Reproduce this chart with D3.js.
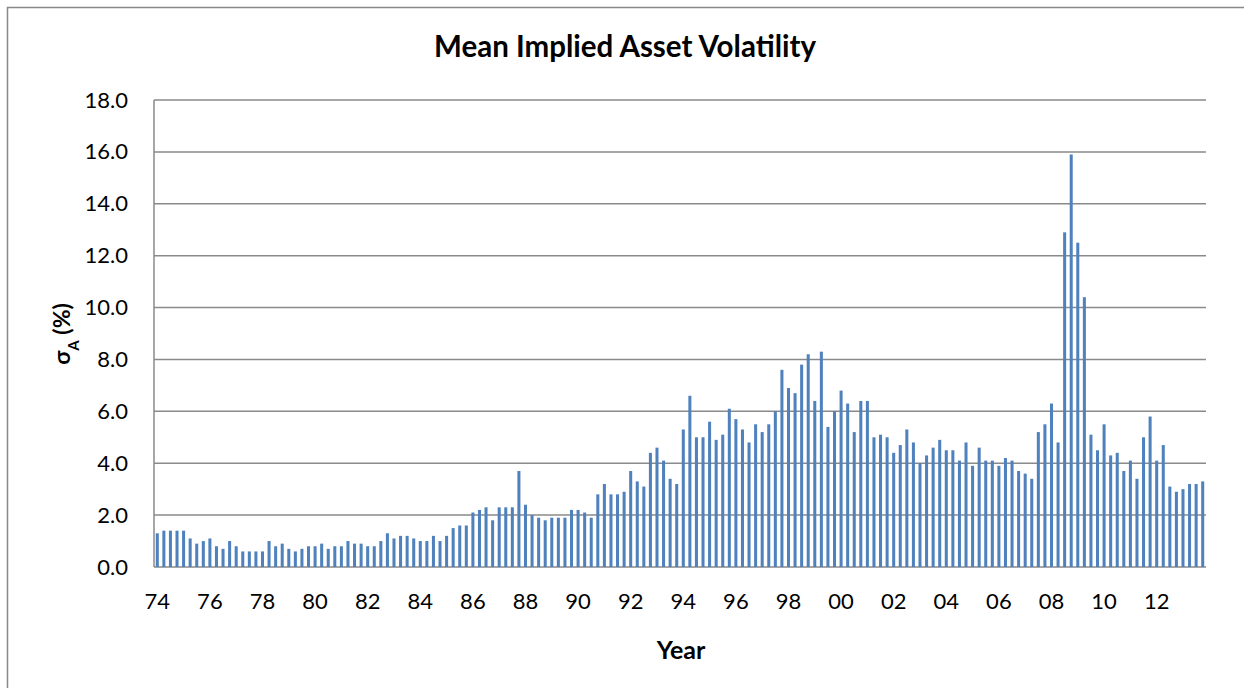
<!DOCTYPE html>
<html>
<head>
<meta charset="utf-8">
<script src="https://cdnjs.cloudflare.com/ajax/libs/d3/7.8.5/d3.min.js"></script>
<style>
  body { margin: 0; background: #fff; }
  text { font-family: Lato, "Open Sans", sans-serif; fill: #000; }
  .tick text { font-size: 22px; }
  .title { font-size: 29.5px; font-weight: bold; }
  .axisTitle { font-size: 23px; font-weight: bold; }
</style>
</head>
<body>
<div id="chart"></div>
<script>

var width = 1244,
height = 688;

// quarterly observations, 1974 Q1 .. 2013 Q4
var years = d3.range(1974, 2014);
var quarters = ["Q1", "Q2", "Q3", "Q4"];
var categories = years.flatMap(function(y) { return quarters.map(function(q) { return y + q; }); });

var volatility = [
  1.3, 1.4, 1.4, 1.4, 1.4, 1.1, 0.9, 1.0, 1.1, 0.8, 0.7, 1.0, 0.8, 0.6, 0.6, 0.6,
  0.6, 1.0, 0.8, 0.9, 0.7, 0.6, 0.7, 0.8, 0.8, 0.9, 0.7, 0.8, 0.8, 1.0, 0.9, 0.9,
  0.8, 0.8, 1.0, 1.3, 1.1, 1.2, 1.2, 1.1, 1.0, 1.0, 1.2, 1.0, 1.2, 1.5, 1.6, 1.6,
  2.1, 2.2, 2.3, 1.8, 2.3, 2.3, 2.3, 3.7, 2.4, 2.0, 1.9, 1.8, 1.9, 1.9, 1.9, 2.2,
  2.2, 2.1, 1.9, 2.8, 3.2, 2.8, 2.8, 2.9, 3.7, 3.3, 3.1, 4.4, 4.6, 4.1, 3.4, 3.2,
  5.3, 6.6, 5.0, 5.0, 5.6, 4.9, 5.1, 6.1, 5.7, 5.3, 4.8, 5.5, 5.2, 5.5, 6.0, 7.6,
  6.9, 6.7, 7.8, 8.2, 6.4, 8.3, 5.4, 6.0, 6.8, 6.3, 5.2, 6.4, 6.4, 5.0, 5.1, 5.0,
  4.4, 4.7, 5.3, 4.8, 4.0, 4.3, 4.6, 4.9, 4.5, 4.5, 4.1, 4.8, 3.9, 4.6, 4.1, 4.1,
  3.9, 4.2, 4.1, 3.7, 3.6, 3.4, 5.2, 5.5, 6.3, 4.8, 12.9, 15.9, 12.5, 10.4, 5.1, 4.5,
  5.5, 4.3, 4.4, 3.7, 4.1, 3.4, 5.0, 5.8, 4.1, 4.7, 3.1, 2.9, 3.0, 3.2, 3.2, 3.3
];

var xTickLabels = ["74", "76", "78", "80", "82", "84", "86", "88", "90", "92",
  "94", "96", "98", "00", "02", "04", "06", "08", "10", "12"];
var yTicks = [0, 2, 4, 6, 8, 10, 12, 14, 16, 18];

var margin = {left: 154, right: 1206, top: 100, bottom: 567};

var svg = d3.select("#chart")
.append("svg")
.attr("width", width)
.attr("height", height);

// chart frame (only top/left edges fall inside the picture)
svg.append("rect")
.attr("x", 7.5)
.attr("y", 7.5)
.attr("width", 1300)
.attr("height", 760)
.style("fill", "none")
.style("stroke", "#898989")
.style("stroke-width", 1.5);

var x = d3.scaleBand()
.domain(categories)
.range([margin.left, margin.right])
.paddingInner(0.54)
.paddingOuter(0.27);

var y = d3.scaleLinear()
.domain([0, 18])
.range([margin.bottom, margin.top]);

// gridlines
svg.append("g")
.selectAll("line")
.data(yTicks)
.enter()
.append("line")
.attr("x1", margin.left)
.attr("x2", margin.right)
.attr("y1", function(d) { return y(d); })
.attr("y2", function(d) { return y(d); })
.style("stroke", "#8a8a8a")
.style("stroke-width", 1.5);

// left axis line
svg.append("line")
.attr("x1", margin.left)
.attr("x2", margin.left)
.attr("y1", margin.top)
.attr("y2", margin.bottom)
.style("stroke", "#8a8a8a")
.style("stroke-width", 1.5);

// bars
svg.append("g")
.selectAll("rect")
.data(volatility)
.enter()
.append("rect")
.attr("x", function(d, i) { return x(categories[i]); })
.attr("y", function(d) { return y(d); })
.attr("width", x.bandwidth())
.attr("height", function(d) { return y(0) - y(d); })
.style("fill", "#4f81bd");

// x axis labels, one every two years
var xTickValues = xTickLabels.map(function(d, i) { return categories[i * 8]; });
var xAxis = d3.axisBottom(x)
.tickValues(xTickValues)
.tickFormat(function(d, i) { return xTickLabels[i]; })
.tickSize(0)
.tickPadding(26);

svg.append("g")
.attr("transform", "translate(0," + margin.bottom + ")")
.call(xAxis)
.call(function(g) { g.select(".domain").remove(); });

var yAxis = d3.axisLeft(y)
.tickValues(yTicks)
.tickFormat(d3.format(".1f"))
.tickSize(0)
.tickPadding(26);

svg.append("g")
.attr("transform", "translate(" + margin.left + ",0)")
.call(yAxis)
.call(function(g) { g.select(".domain").remove(); });

svg.selectAll(".tick text")
.attr("font-family", null)
.attr("font-size", null);

// titles
svg.append("text")
.attr("class", "title")
.attr("x", 625)
.attr("y", 57)
.attr("text-anchor", "middle")
.text("Mean Implied Asset Volatility");

svg.append("text")
.attr("class", "axisTitle")
.attr("x", 681)
.attr("y", 659)
.attr("text-anchor", "middle")
.style("font-size", "25px")
.text("Year");

var yTitle = svg.append("text")
.attr("class", "axisTitle")
.attr("text-anchor", "middle")
.attr("transform", "translate(70,334) rotate(-90)");
yTitle.append("tspan").text("σ");
yTitle.append("tspan")
.attr("baseline-shift", "sub")
.style("font-size", "15px")
.text("A");
yTitle.append("tspan").text(" (%)");

</script>
</body>
</html>
